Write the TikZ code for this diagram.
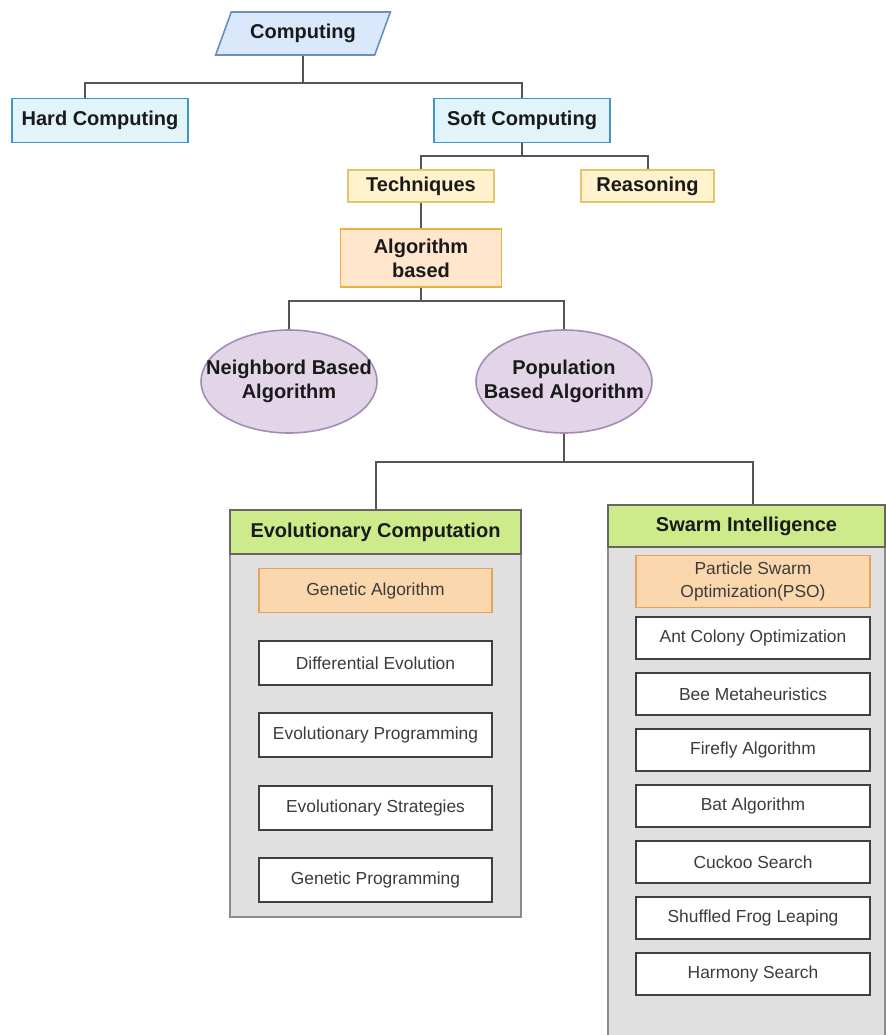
\documentclass[tikz,border=0pt]{standalone}
\usepackage{fontspec}
\setmainfont{Liberation Sans}
\usetikzlibrary{shapes.geometric}
\definecolor{linkc}{HTML}{555555}
\definecolor{txtb}{HTML}{1A1A1A}
\definecolor{txtr}{HTML}{3C3C3C}
\definecolor{compF}{HTML}{DAE8FC}\definecolor{compD}{HTML}{6C8EBF}
\definecolor{softF}{HTML}{E1F4FA}\definecolor{softD}{HTML}{3E96D2}
\definecolor{techF}{HTML}{FFF2CC}\definecolor{techD}{HTML}{E2C66A}
\definecolor{algoF}{HTML}{FFE6CC}\definecolor{algoD}{HTML}{E6B43C}
\definecolor{ellF}{HTML}{E1D5E7}\definecolor{ellD}{HTML}{A58BB5}
\definecolor{headF}{HTML}{CDEB8B}\definecolor{headD}{HTML}{666666}
\definecolor{bodyF}{HTML}{E0E0E0}\definecolor{bodyD}{HTML}{8C8C8C}
\definecolor{firstF}{HTML}{FAD7AC}\definecolor{firstD}{HTML}{E3A35A}
\begin{document}
\begin{tikzpicture}[x=0.5pt,y=-0.5pt,link/.style={draw=linkc,line width=1pt},bold/.style={font=\fontsize{10}{12}\selectfont\bfseries,text=txtb,align=center},plain/.style={font=\fontsize{8.7}{11.3}\selectfont,text=txtr,align=center},topbox/.style={shape=rectangle,draw=softD,fill=softF,line width=0.8pt,minimum width=88pt,minimum height=22pt,bold},tbox/.style={shape=rectangle,draw=techD,fill=techF,line width=0.8pt,minimum height=15pt,bold},grp/.style={shape=ellipse,draw=ellD,fill=ellF,line width=0.8pt,minimum width=88pt,minimum height=51.5pt,inner sep=0pt},body/.style={shape=rectangle,draw=bodyD,fill=bodyF,line width=0.8pt},head/.style={shape=rectangle,draw=headD,fill=headF,line width=0.8pt,bold},item/.style={shape=rectangle,draw=black!75,fill=white,line width=0.8pt,minimum width=117pt,plain},itemF/.style={item,draw=firstD,fill=firstF}]
\def\evox{375.5};
\def\swx{746.5};
\def\swix{753};

\useasboundingbox (0,0) rectangle (886,1035);
\clip (0,0) rectangle (886,1035);

% top levels
\node[trapezium,trapezium left angle=68,trapezium right angle=112,trapezium stretches=true,draw=compD,fill=compF,line width=0.8pt,minimum width=87.5pt,minimum height=21.5pt,bold] (comp) at (303,33.5) {Computing};
\node[topbox] (hard) at (100,120.5) {Hard Computing};
\node[topbox] (soft) at (522,120.5) {Soft Computing};
\coordinate (bus1) at (303,83);
\draw[link] (comp.center |- comp.south) -- (bus1);
\draw[link] ([xshift=-7.5pt]hard.north) |- (bus1) -| (soft.north);

\node[tbox,minimum width=73pt] (tech) at (421,186) {Techniques};
\node[tbox,minimum width=66.5pt] (reas) at (647.5,186) {Reasoning};
\coordinate (bus2) at (522,156);
\draw[link] (soft.south) -- (bus2);
\draw[link] (tech.north) |- (bus2) -| (reas.north);

\node[shape=rectangle,draw=algoD,fill=algoF,line width=0.8pt,minimum width=80.5pt,minimum height=29pt,bold] (algo) at (421,258) {Algorithm\\based};
\draw[link] (tech.south) -- (algo.north);

\node[grp] (neigh) at (289,381.5) {};
\node[bold] (neighT) at (neigh.center) {Neighbord Based\\Algorithm};
\node[grp] (popu) at (564,381.5) {};
\node[bold] (popuT) at (popu.center) {Population\\Based Algorithm};
\coordinate (bus3) at (421,301);
\draw[link] (algo.south) -- (bus3);
\draw[link] (neigh.north) |- (bus3) -| (popu.north);

% evolutionary computation
\node[body,minimum width=145.5pt,minimum height=203.5pt] (evobody) at (\evox,713.5) {};
\node[head,minimum width=145.5pt,minimum height=22pt] (evohead) at (\evox,532) {Evolutionary Computation};
\node[itemF,minimum width=116.5pt,minimum height=22pt] (ga) at (\evox,590.5) {Genetic Algorithm};
\node[item,minimum width=116.5pt,minimum height=22pt] (de) at (\evox,663) {Differential Evolution};
\node[item,minimum width=116.5pt,minimum height=22pt] (ep) at (\evox,735) {Evolutionary Programming};
\node[item,minimum width=116.5pt,minimum height=22pt] (es) at (\evox,808) {Evolutionary Strategies};
\node[item,minimum width=116.5pt,minimum height=22pt] (gp) at (\evox,880) {Genetic Programming};

% swarm intelligence
\node[body,minimum width=138.5pt,minimum height=270pt] (swbody) at (\swx,775) {};
\node[head,minimum width=138.5pt,minimum height=21pt] (swhead) at (\swx,526) {Swarm Intelligence};
\node[itemF,minimum height=21.5pt] (pso) at (\swix,581.5) {Particle Swarm\\Optimization(PSO)};
\node[item,minimum height=21pt] (aco) at (\swix,638) {Ant Colony Optimization};
\node[item,minimum height=21pt] (bee) at (\swix,694) {Bee Metaheuristics};
\node[item,minimum height=21pt] (ffa) at (\swix,750) {Firefly Algorithm};
\node[item,minimum height=21pt] (bat) at (\swix,806) {Bat Algorithm};
\node[item,minimum height=21pt] (cs) at (\swix,862) {Cuckoo Search};
\node[item,minimum height=21pt] (sfl) at (\swix,918) {Shuffled Frog Leaping};
\node[item,minimum height=21pt] (hs) at (\swix,974) {Harmony Search};

\coordinate (bus4) at (564,462);
\draw[link] (popu.south) -- (bus4);
\draw[link] (evohead.north) |- (bus4) -| ([xshift=3.25pt]swhead.north);
\end{tikzpicture}
\end{document}
